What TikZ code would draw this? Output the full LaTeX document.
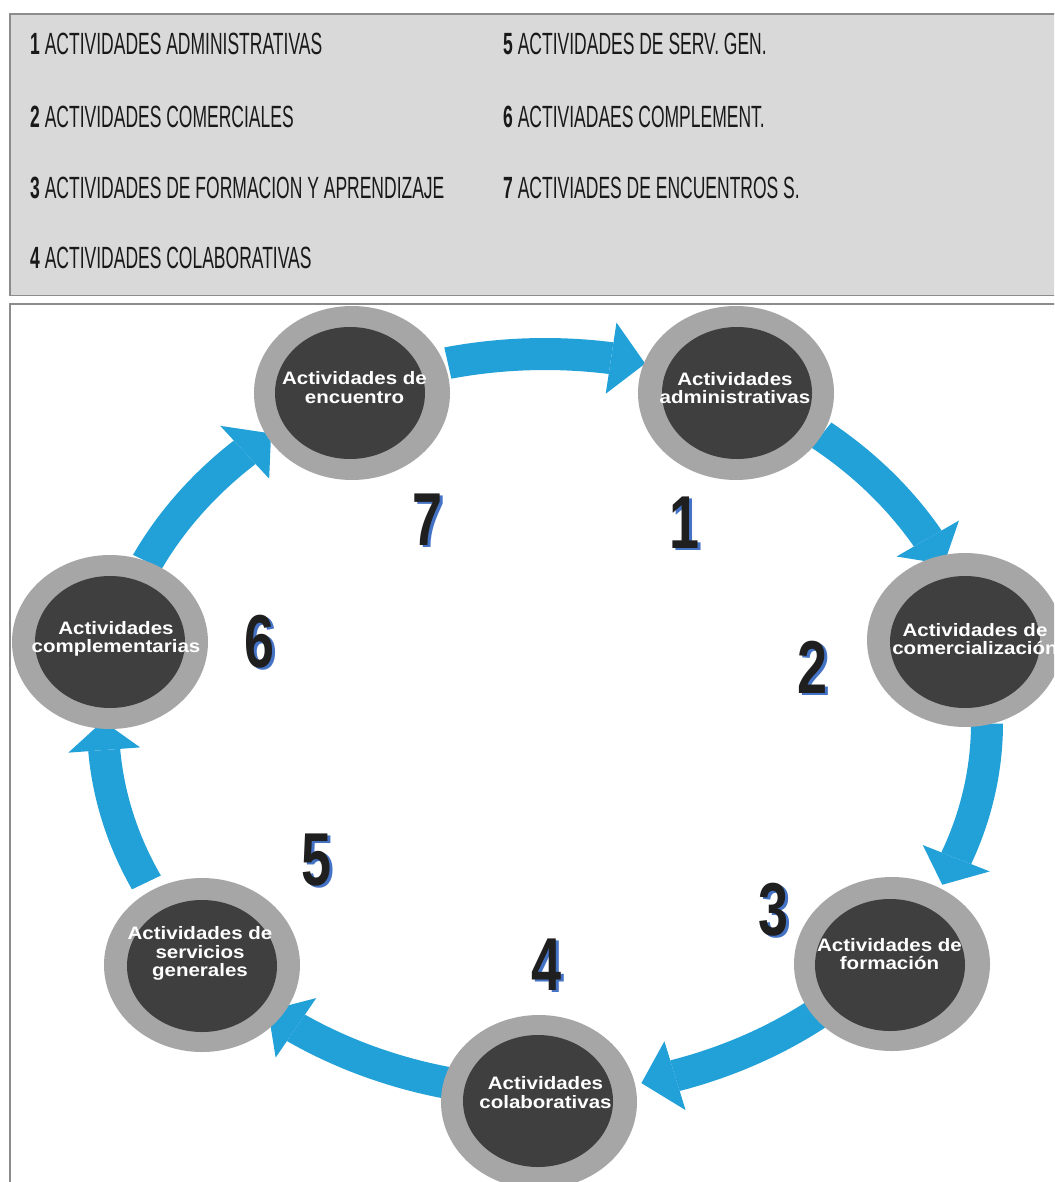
\documentclass[tikz,border=0pt]{standalone}
\usepackage{fontspec}
\setmainfont{Liberation Sans}
\newfontfamily\legfont[FakeStretch=0.57]{Liberation Sans}
\newfontfamily\numfont[FakeStretch=0.72]{Liberation Sans}
\newfontfamily\lblfont[FakeStretch=1.14]{Liberation Sans}
\usetikzlibrary{shapes.geometric}
\definecolor{legendgray}{HTML}{D9D9D9}
\definecolor{framegray}{HTML}{8C8C8C}
\definecolor{arrowblue}{HTML}{22A0D8}
\definecolor{ringgray}{HTML}{A6A6A6}
\definecolor{coregray}{HTML}{3F3F3F}
\definecolor{numblue}{HTML}{4472C4}
\newcommand\shadownum[1]{\rlap{\hspace{2.5pt}\raisebox{-2.5pt}{\textcolor{numblue}{#1}}}#1}
% band from #1 to #2 (base of head), tip at #3 (angles on the ring ellipse)
\newcommand\ringarrow[3]{%
  \fill[arrowblue] plot[domain=#1:#2, samples=40] ({545+458*cos(\x)}, {723-385*sin(\x)})
     -- plot[domain=#2:#1, samples=40] ({545+426*cos(\x)}, {723-353*sin(\x)}) -- cycle;
  \fill[arrowblue] ({545+478*cos(#2)}, {723-405*sin(#2)})
     -- ({545+442*cos(#3)}, {723-369*sin(#3)})
     -- ({545+406*cos(#2)}, {723-333*sin(#2)}) -- cycle;}
\begin{document}
\begin{tikzpicture}[x=1pt,y=-1pt,
  legtext/.style={anchor=base west, inner sep=0pt, text=black!90,
    font=\legfont\fontsize{30.7}{36}\selectfont},
  ringnode/.style={ellipse, fill=ringgray, minimum width=196pt, minimum height=174pt, inner sep=0pt},
  corenode/.style={ellipse, fill=coregray, minimum width=150pt, minimum height=132pt, inner sep=0pt},
  lbl/.style={align=center, text=white, inner sep=0pt,
    font=\lblfont\bfseries\fontsize{18}{18.5}\selectfont},
  bignum/.style={anchor=base, inner sep=0pt, text=black!88,
    font=\numfont\bfseries\fontsize{75}{75}\selectfont}]
\clip (0,0) rectangle (1054,1182);
\fill[white] (0,0) rectangle (1054,1182);
% legend box
\draw[fill=legendgray, draw=framegray, line width=1.5pt] (10,14) rectangle (1070,295.5);
\node[legtext] (l1) at (30,55) {\textbf{1} ACTIVIDADES ADMINISTRATIVAS};
\node[legtext] (l2) at (30,128) {\textbf{2} ACTIVIDADES COMERCIALES};
\node[legtext] (l3) at (30,199) {\textbf{3} ACTIVIDADES DE FORMACION Y APRENDIZAJE};
\node[legtext] (l4) at (30,269) {\textbf{4} ACTIVIDADES COLABORATIVAS};
\node[legtext] (l5) at (503,55) {\textbf{5} ACTIVIDADES DE SERV. GEN.};
\node[legtext] (l6) at (503,128) {\textbf{6} ACTIVIADAES COMPLEMENT.};
\node[legtext] (l7) at (503,199) {\textbf{7} ACTIVIADES DE ENCUENTROS S.};
% lower frame
\draw[draw=framegray, line width=2pt] (1070,304) -- (9.5,304) -- (9.5,1200);
% arrows
\ringarrow{102.7}{81.4}{76.9}
\ringarrow{51.3}{30.0}{25.5}
\ringarrow{-0.1}{-21.5}{-26.0}
\ringarrow{-51.6}{-72.9}{-77.4}
\ringarrow{-103.0}{-124.3}{-128.8}
\ringarrow{-154.4}{-175.8}{-180.3}
\ringarrow{-205.9}{-227.2}{-231.7}
% circles
\node[ringnode] (r1) at (736,393) {};
\node[ringnode] (r2) at (965,640) {};
\node[ringnode] (r3) at (892,964) {};
\node[ringnode] (r4) at (539,1102) {};
\node[ringnode] (r5) at (202,965) {};
\node[ringnode] (r6) at (110,642) {};
\node[ringnode] (r7) at (352,393) {};
\node[corenode] (k1) at (737,393) {};
\node[corenode] (k2) at (965,642) {};
\node[corenode] (k3) at (890,965) {};
\node[corenode] (k4) at (538,1101) {};
\node[corenode] (k5) at (202,966) {};
\node[corenode] (k6) at (110,642) {};
\node[corenode] (k7) at (350,393) {};
% labels
\node[lbl] (t1) at (735,388) {Actividades\\administrativas};
\node[lbl] (t2) at (975,639) {Actividades de\\comercialización};
\node[lbl] (t3) at (889.5,954) {Actividades de\\formación};
\node[lbl] (t4) at (545.5,1092.5) {Actividades\\colaborativas};
\node[lbl] (t5) at (200,953.5) {Actividades de\\servicios\\generales};
\node[lbl] (t6) at (116,639) {Actividades\\complementarias};
\node[lbl] (t7) at (354.5,387.5) {Actividades de\\encuentro};
% numbers
\node[bignum] (n7) at (428,545) {\shadownum{7}};
\node[bignum] (n1) at (685,548) {\shadownum{1}};
\node[bignum] (n2) at (813,693) {\shadownum{2}};
\node[bignum] (n3) at (774,935) {\shadownum{3}};
\node[bignum] (n4) at (547,990) {\shadownum{4}};
\node[bignum] (n5) at (317,885) {\shadownum{5}};
\node[bignum] (n6) at (260,667) {\shadownum{6}};
\end{tikzpicture}
\end{document}
